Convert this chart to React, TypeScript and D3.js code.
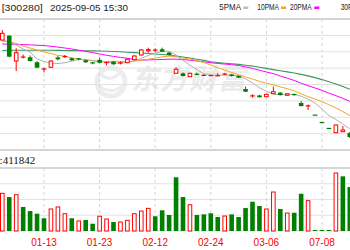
import React from "react";
import * as d3 from "d3";

const dates = ["01-03","01-06","01-07","01-08","01-09","01-10","01-13","01-14","01-15","01-16","01-17","01-20","01-21","01-22","01-23","01-24","01-27","02-05","02-06","02-07","02-10","02-11","02-12","02-13","02-14","02-17","02-18","02-19","02-20","02-21","02-24","02-25","02-26","02-27","02-28","03-03","03-04","03-05","03-06","03-07","03-10","03-11","03-12","03-13","03-14","07-07","07-08","07-09","07-10","07-11","07-14"];

const opens = [28.00,29.08,22.75,23.65,23.68,22.43,20.63,21.18,23.63,23.75,23.43,23.30,22.93,22.30,23.05,22.20,22.58,22.18,22.33,23.08,24.25,25.30,25.43,25.68,24.83,19.68,19.68,18.83,19.45,19.10,19.05,19.00,19.35,19.38,19.00,15.75,13.95,14.13,13.83,14.58,14.83,14.18,14.38,12.25,11.45,9.24,7.39,5.91,4.83,5.08,4.75];
const highs = [30.50,29.20,25.93,24.38,24.13,22.68,21.13,22.93,24.00,24.25,23.63,23.55,23.13,22.50,23.58,22.63,22.75,22.63,23.38,24.20,25.75,26.08,25.93,26.08,25.00,21.18,19.88,19.80,19.83,19.43,19.30,19.68,19.75,19.55,19.13,16.38,14.43,14.30,14.50,16.33,14.95,14.68,14.43,12.75,11.88,9.24,7.39,5.91,6.88,6.50,5.00];
const lows = [27.88,23.68,20.25,23.38,22.63,20.95,19.88,21.05,22.93,23.50,22.80,22.88,22.30,21.93,22.18,21.63,21.80,21.88,22.20,22.95,24.13,24.83,25.00,25.00,24.13,19.63,18.88,18.75,19.18,19.05,19.00,18.95,19.25,18.83,18.50,15.00,13.58,13.58,13.75,14.50,14.13,14.08,14.08,11.33,10.50,9.24,7.39,5.91,4.68,5.08,3.50];
const closes = [29.68,23.83,24.83,23.75,22.75,21.08,20.75,22.75,23.18,23.88,22.93,23.13,22.43,22.13,22.30,22.38,21.93,22.30,23.18,24.00,25.50,25.60,25.50,25.08,24.25,20.68,19.00,19.68,19.25,19.18,19.13,19.08,19.50,19.00,18.58,15.08,14.05,13.70,14.43,15.08,14.25,14.55,14.20,11.50,11.55,9.24,7.39,5.91,6.75,5.50,3.75];
const volumes = [353000,318000,340000,225000,187000,162000,119000,206000,225000,162000,119000,94000,103000,68000,138000,112000,84000,84000,100000,162000,187000,212000,138000,194000,150000,503000,318000,246000,150000,156000,166000,131000,140000,156000,131000,215000,274000,234000,206000,365000,206000,168000,171000,349000,284000,9000,8000,9000,543000,512000,411842];

const ma5 = [28.00,27.50,26.75,25.75,24.98,23.25,22.63,22.23,22.10,22.33,22.70,23.18,23.10,22.90,22.58,22.48,22.23,22.20,22.43,22.75,23.38,24.13,24.75,25.13,25.18,24.23,22.90,21.73,20.58,19.55,19.25,19.25,19.23,19.18,19.05,18.25,17.25,16.08,15.18,14.48,14.30,14.40,14.50,13.93,13.20,12.23,10.78,9.10,8.15,6.95,5.80];
const ma10 = [27.75,27.50,27.13,26.50,26.00,25.50,25.00,24.63,24.13,24.00,23.50,23.25,23.00,22.75,22.63,22.58,22.70,22.65,22.65,22.68,22.93,23.18,23.48,23.78,23.98,23.80,23.50,23.25,22.85,22.38,21.73,21.08,20.48,19.88,19.30,18.75,18.25,17.65,17.18,16.75,16.28,15.83,15.30,14.55,13.83,13.25,12.58,11.80,11.05,10.10,9.10];
const ma20 = [27.00,26.95,26.90,26.85,26.78,26.70,26.60,26.43,26.23,26.00,25.75,25.45,25.15,24.85,24.50,24.18,23.90,23.65,23.43,23.15,22.95,23.03,23.08,23.13,23.20,23.20,23.10,22.95,22.75,22.53,22.33,22.13,21.98,21.83,21.63,21.28,20.88,20.45,20.00,19.58,19.00,18.45,17.88,17.20,16.58,16.00,15.40,14.70,14.08,13.40,12.65];
const ma30 = [25.38,25.43,25.45,25.45,25.45,25.45,25.45,25.43,25.40,25.38,25.35,25.33,25.30,25.28,25.25,25.20,25.13,25.05,24.95,24.85,24.75,24.63,24.50,24.38,24.25,24.00,23.75,23.50,23.20,22.90,22.55,22.38,22.20,22.05,21.90,21.70,21.48,21.18,20.90,20.60,20.30,20.03,19.75,19.40,19.03,18.60,18.10,17.55,17.00,16.40,15.68];

const tickDates = ["01-13","01-23","02-12","02-24","03-06","07-08"];
const legendNames = ["5PMA","10PMA","20PMA","30PMA"];
const legendColors = ["#bdbdbd","#f5a623","#ff00ff","#3c9660"];
const headerCode = "[300280]";
const headerTime = "2025-09-05 15:30";
const volLabel = ":411842";

const W = 350, H = 250;
const RED = "#ff0000";
const GREEN = "#008000";

export default function App() {
  const x = d3.scalePoint<string>().domain(dates).range([2.3, 349.8]);
  const yP = d3.scaleLinear().domain([0.5, 33.25]).range([150, 19]);
  const yV = d3.scaleLinear().domain([0, 590000]).range([231, 168]);
  const bw = 4.6;

  const mainGrid = d3.range(1, 8).map(k => 19 + k * (131 / 8));
  const volGrid = d3.range(1, 5).map(k => 168 + k * (63 / 4));

  const line = (arr: number[]) =>
    d3.line<number>().x((_, i) => x(dates[i]) as number).y(d => yP(d))(arr) || "";

  const isUp = (i: number) => {
    if (closes[i] > opens[i]) return true;
    if (closes[i] < opens[i]) return false;
    return i === 0 ? true : closes[i] >= closes[i - 1];
  };
  const volUp = (i: number) => (i === 0 ? closes[0] >= opens[0] : closes[i] >= closes[i - 1]);

  const legendX = [219.3, 257.3, 290, 340.7];
  const legendW = [21.7, 21.7, 21.7, 21.7];
  const swatchX = [243.3, 281, 314.3, 364];

  return (
    <svg width={W} height={H} style={{ position: "fixed", left: 0, top: 0, background: "#fff" }}
      fontFamily="Liberation Sans, Arial, sans-serif">
      <rect x={0} y={0} width={W} height={H} fill="#fff" />
      {/* header */}
      <text x={1.7} y={10.7} fontSize={9.5} fill="#222" textLength={41} lengthAdjust="spacingAndGlyphs">{headerCode}</text>
      <text x={50} y={10.7} fontSize={9.5} fill="#222" textLength={78} lengthAdjust="spacingAndGlyphs">{headerTime}</text>
      {legendNames.map((n, i) => (
        <g key={n}>
          <text x={legendX[i]} y={10.3} fontSize={9} fill="#222" textLength={legendW[i]} lengthAdjust="spacingAndGlyphs">{n}</text>
          <rect x={swatchX[i]} y={6.5} width={5} height={2.5} fill={legendColors[i]} />
        </g>
      ))}

      {/* watermark */}
      <g opacity={1}>
        <circle cx={111} cy={82} r={14} fill="none" stroke="#ededed" strokeWidth={5} />
        <path d="M100,74 Q112,84 122,70 M99,86 Q113,96 124,84" fill="none" stroke="#ededed" strokeWidth={3} />
        <g transform="translate(131,89) skewX(-12)">
          <text x={0} y={0} fontSize={28} fontWeight={700} fill="#ebebeb"
            fontFamily="Noto Sans CJK SC, sans-serif" letterSpacing={1}>东方财富</text>
        </g>
      </g>

      {/* grid */}
      {mainGrid.map((g, i) => (
        <line key={"mg" + i} x1={0} x2={W} y1={g} y2={g} stroke="#e2e2e2" strokeWidth={1} />
      ))}
      {volGrid.map((g, i) => (
        <line key={"vg" + i} x1={0} x2={W} y1={g} y2={g} stroke="#e2e2e2" strokeWidth={1} />
      ))}
      <line x1={0} x2={W} y1={19} y2={19} stroke="#a8a8a8" strokeWidth={1} />
      <line x1={0} x2={W} y1={150} y2={150} stroke="#c8c8c8" strokeWidth={1.5} />
      <line x1={0} x2={W} y1={168} y2={168} stroke="#c8c8c8" strokeWidth={1.5} />
      {tickDates.map(t => (
        <g key={"vt" + t}>
          <line x1={x(t)} x2={x(t)} y1={19} y2={150} stroke="#d6d6d6" strokeDasharray="3,3" />
          <line x1={x(t)} x2={x(t)} y1={168} y2={231} stroke="#d6d6d6" strokeDasharray="3,3" />
        </g>
      ))}

      {/* MA lines */}
      <path d={line(ma30)} fill="none" stroke={legendColors[3]} strokeWidth={1.1} />
      <path d={line(ma20)} fill="none" stroke={legendColors[2]} strokeWidth={1} />
      <path d={line(ma10)} fill="none" stroke={legendColors[1]} strokeWidth={1} />
      <path d={line(ma5)} fill="none" stroke="#b0b0b0" strokeWidth={1} />

      {/* candles */}
      {dates.map((d, i) => {
        const cx = x(d) as number;
        const up = isUp(i);
        const col = up ? RED : GREEN;
        const top = yP(Math.max(opens[i], closes[i]));
        const bot = yP(Math.min(opens[i], closes[i]));
        const h = bot - top;
        return (
          <g key={"c" + d}>
            <line x1={cx} x2={cx} y1={yP(highs[i])} y2={yP(lows[i])} stroke={col} strokeWidth={1} />
            {h < 1.2 ? (
              <rect x={cx - bw / 2} y={top - 0.5} width={bw} height={1.2} fill={col} />
            ) : up ? (
              <rect x={cx - bw / 2 + 0.5} y={top} width={bw - 1} height={h} fill="#fff" stroke={col} strokeWidth={1} />
            ) : (
              <rect x={cx - bw / 2} y={top} width={bw} height={h} fill={col} />
            )}
          </g>
        );
      })}

      {/* volume */}
      <text x={-0.4} y={164} fontSize={11} fill="#111" fontFamily="Liberation Serif, Times New Roman, serif">{volLabel}</text>
      {dates.map((d, i) => {
        const cx = x(d) as number;
        const up = volUp(i);
        const t = Math.min(yV(volumes[i]), 230);
        const h = 231 - t;
        return up ? (
          <rect key={"v" + d} x={cx - bw / 2 + 0.5} y={t} width={bw - 1} height={h} fill="#fff" stroke={RED} strokeWidth={1} />
        ) : (
          <rect key={"v" + d} x={cx - bw / 2} y={t} width={bw} height={h} fill={GREEN} />
        );
      })}

      {/* x labels */}
      {tickDates.map(t => (
        <text key={"xl" + t} x={x(t)} y={245.5} fontSize={10} fill={RED} textAnchor="middle">{t}</text>
      ))}
    </svg>
  );
}
